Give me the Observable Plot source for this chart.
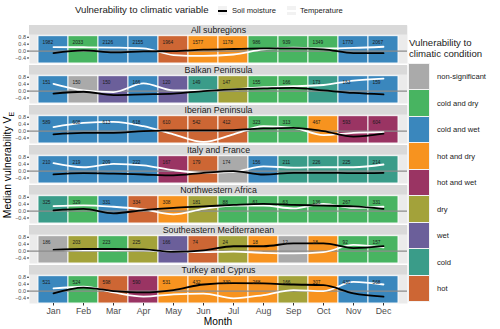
<!DOCTYPE html>
<html>
<head>
<meta charset="utf-8">
<script src="https://cdn.jsdelivr.net/npm/d3@7"></script>
<script src="https://cdn.jsdelivr.net/npm/@observablehq/plot@0.6"></script>
<style>
  body { margin: 0; background: #fff; font-family: "Liberation Sans", Arial, sans-serif; }
  #wrap { position: relative; width: 500px; height: 329px; overflow: hidden; }
  #chart { position: absolute; left: 0; top: 0; }
  .abs { position: absolute; white-space: nowrap; line-height: 1; color: #1a1a1a; }
</style>
</head>
<body>
<div id="wrap">
  <div id="chart"></div>
  <div id="toplegend"></div>
  <div id="rightlegend"></div>
  <div class="abs" id="xlab" style="left:0;width:436px;text-align:center;top:317px;font-size:10.2px;color:#000;">Month</div>
  <div class="abs" id="ylab" style="left:9px;top:165px;font-size:10.4px;color:#000;transform:translate(-50%,-50%) rotate(-90deg);">Median vulnerability V<sub style="font-size:7px;">E</sub></div>
</div>
<script>
const months = ["Jan","Feb","Mar","Apr","May","Jun","Jul","Aug","Sep","Oct","Nov","Dec"];
const regions = ["All subregions","Balkan Peninsula","Iberian Peninsula","Italy and France","Northwestern Africa","Southeastern Mediterranean","Turkey and Cyprus"];
const categories = ["non-significant","cold and dry","cold and wet","hot and dry","hot and wet","dry","wet","cold","hot"];
const colors = ["#AAAAAA","#48B461","#3A87BD","#F7931F","#9A3463","#A3A23A","#6B5F9A","#3A9C89","#CD6634"];

// conditions per region (Jan..Dec)
const condAll    = ["cold and wet","cold and dry","cold and wet","cold and wet","hot","hot and dry","hot and dry","cold and dry","cold and dry","cold and dry","cold and wet","cold and wet"];
const condBalkan = ["cold and wet","non-significant","wet","cold and wet","wet","cold","dry","cold and dry","cold and dry","cold","cold and wet","cold and wet"];
const condIberia = ["cold and wet","cold and wet","cold and wet","cold and wet","hot","hot","hot","cold and dry","cold and dry","hot and dry","hot and wet","hot and wet"];
const condItaly  = ["cold and wet","cold and wet","cold and wet","cold and wet","hot and wet","hot","non-significant","cold and wet","cold","cold","cold","cold"];
const condNWA    = ["cold","cold and dry","cold and wet","hot","hot and dry","dry","cold and dry","cold and dry","cold and dry","cold and dry","cold and dry","cold and dry"];
const condSEM    = ["non-significant","dry","cold and dry","dry","wet","hot","dry","hot and dry","non-significant","hot and dry","cold and dry","cold and dry"];
const condTurkey = ["cold and wet","cold and dry","hot","hot and wet","hot and dry","hot and dry","hot and dry","hot and dry","dry","hot and dry","cold and wet","cold and wet"];

// sample counts
const nAll    = [1982,2033,2126,2155,1964,1577,1178,986,939,1349,1770,2067];
const nBalkan = [151,150,150,166,120,149,147,155,166,173,163,159];
const nIberia = [589,608,613,618,610,542,412,323,313,467,593,604];
const nItaly  = [210,219,209,222,167,179,174,156,211,226,225,214];
const nNWA    = [325,329,331,334,308,181,88,61,63,136,267,331];
const nSEM    = [186,203,223,225,166,74,24,18,12,18,92,157];
const nTurkey = [521,524,598,590,531,432,330,268,166,307,430,568];

// median vulnerability: soil moisture (black)
const soilAll    = [-0.12,0.04,-0.08,-0.02,0.0,0.08,0.12,0.15,0.15,0.10,-0.12,-0.12];
const soilBalkan = [-0.15,-0.04,-0.23,-0.19,-0.15,0.0,0.10,0.15,0.19,0.04,-0.11,-0.19];
const soilIberia = [-0.19,-0.10,-0.10,0.0,0.04,0.04,0.06,0.15,0.19,0.0,-0.32,-0.15];
const soilItaly  = [-0.19,-0.12,-0.15,-0.20,-0.25,-0.10,0.0,-0.20,-0.10,-0.10,-0.12,-0.10];
const soilNWA    = [0.04,0.13,-0.13,0.06,0.19,0.27,0.36,0.42,0.36,0.32,0.27,0.13];
const soilSEM    = [0.08,0.12,0.12,0.10,-0.05,0.04,0.28,0.28,0.45,0.45,0.17,0.28];
const soilTurkey = [-0.13,0.20,0.0,-0.08,0.06,0.38,0.46,0.44,0.38,0.34,-0.13,-0.32];

// median vulnerability: temperature (white)
const tempAll    = [0.23,0.22,0.20,0.15,-0.23,-0.28,-0.20,0.10,0.20,0.15,0.18,0.25];
const tempBalkan = [0.42,0.04,-0.06,0.44,0.04,0.04,0.10,0.23,0.28,0.35,0.61,0.72];
const tempIberia = [0.23,0.47,0.53,0.28,-0.19,-0.63,-0.19,0.28,0.19,-0.23,-0.10,-0.06];
const tempItaly  = [0.46,0.22,0.42,0.33,0.05,-0.10,-0.05,0.27,0.20,0.22,0.22,0.38];
const tempNWA    = [0.29,0.33,0.25,0.10,-0.19,0.13,0.32,0.32,0.15,0.42,0.19,0.25];
const tempSEM    = [0.09,0.04,0.04,0.04,-0.03,-0.06,-0.03,-0.10,-0.13,-0.06,0.36,0.21];
const tempTurkey = [0.15,0.25,-0.08,-0.32,-0.19,-0.15,-0.42,-0.23,0.06,0.0,0.53,0.38];

const conds = [condAll,condBalkan,condIberia,condItaly,condNWA,condSEM,condTurkey];
const counts = [nAll,nBalkan,nIberia,nItaly,nNWA,nSEM,nTurkey];
const soils = [soilAll,soilBalkan,soilIberia,soilItaly,soilNWA,soilSEM,soilTurkey];
const temps = [tempAll,tempBalkan,tempIberia,tempItaly,tempNWA,tempSEM,tempTurkey];

const rows = [];
regions.forEach((r, i) => months.forEach((m, j) => rows.push({
  region: r, month: m, cond: conds[i][j], n: counts[i][j], soil: soils[i][j], temp: temps[i][j]
})));

const font = "Liberation Sans, Arial, sans-serif";
const plot = Plot.plot({
  width: 500, height: 329,
  marginTop: 23, marginBottom: 25, marginLeft: 29, marginRight: 93,
  style: {fontFamily: font, background: "transparent"},
  fy: {domain: regions, paddingInner: 0.05, paddingOuter: 0, axis: null, label: null},
  x: {domain: months, paddingInner: 0, paddingOuter: 0.1, label: null},
  y: {domain: [-0.72, 1.48], label: null},
  color: {domain: categories, range: colors},
  marks: [
    Plot.frame({fill: "#EBEBEB", stroke: null}),
    Plot.barY(regions, {fy: d => d, y1: 0.93, y2: 1.48, fill: "#D9D9D9"}),
    Plot.text(regions, {fy: d => d, y: 1.2, text: d => d, fontSize: 8.8, fill: "#1A1A1A"}),
    Plot.barY(rows, {x: "month", fy: "region", y1: -0.72, y2: 0.86, fill: "cond", stroke: "white", strokeWidth: 0.9}),
    Plot.ruleY([0], {stroke: "#8C8C8C", strokeWidth: 1.3}),
    Plot.line(rows, {x: "month", y: "temp", fy: "region", stroke: "white", strokeWidth: 1.8, curve: "monotone-x"}),
    Plot.line(rows, {x: "month", y: "soil", fy: "region", stroke: "black", strokeWidth: 1.8, curve: "monotone-x"}),
    Plot.text(rows, {x: "month", y: 0.52, fy: "region", text: d => String(d.n), dx: -11, textAnchor: "start", fontSize: 4.8, fill: "#1A1A1A"}),
    Plot.axisY({ticks: [-0.4, 0, 0.4, 0.8], tickFormat: d3.format(".1f"), tickSize: 2, tickPadding: 1.5, fontSize: 5.5, fill: "#4D4D4D", stroke: "#333", label: null}),
    Plot.axisX({tickSize: 2.5, tickPadding: 1.5, fontSize: 8.8, fill: "#4D4D4D", stroke: "#333", label: null})
  ]
});
document.getElementById("chart").appendChild(plot);

// top legend
const tl = document.getElementById("toplegend");
tl.innerHTML = `
  <div class="abs" style="left:75px;top:5px;font-size:9.6px;">Vulnerability to climatic variable</div>
  <div class="abs" style="left:218px;top:6px;width:9px;height:9px;background:#F2F2F2;"></div>
  <div class="abs" style="left:218px;top:9.5px;width:9px;height:2px;background:#000;"></div>
  <div class="abs" style="left:232px;top:6.5px;font-size:7.6px;">Soil moisture</div>
  <div class="abs" style="left:287px;top:6px;width:9px;height:9px;background:#F2F2F2;"></div>
  <div class="abs" style="left:287px;top:9.5px;width:9px;height:2px;background:#fff;"></div>
  <div class="abs" style="left:300px;top:6.5px;font-size:7.6px;">Temperature</div>`;

// right legend
const rl = document.getElementById("rightlegend");
let html = `<div class="abs" style="left:409px;top:38px;font-size:9.6px;">Vulnerability to</div>
<div class="abs" style="left:409px;top:49px;font-size:9.6px;">climatic condition</div>`;
categories.forEach((c, i) => {
  const top = 63.3 + i * 26.5;
  html += `<div class="abs" style="left:408px;top:${top}px;width:22px;height:26.5px;background:#F2F2F2;"></div>`;
  html += `<div class="abs" style="left:409px;top:${top + 0.5}px;width:20px;height:25.5px;background:${colors[i]};"></div>`;
  html += `<div class="abs" style="left:437px;top:${top + 10}px;font-size:7.6px;">${c}</div>`;
});
rl.innerHTML = html;
</script>
</body>
</html>
